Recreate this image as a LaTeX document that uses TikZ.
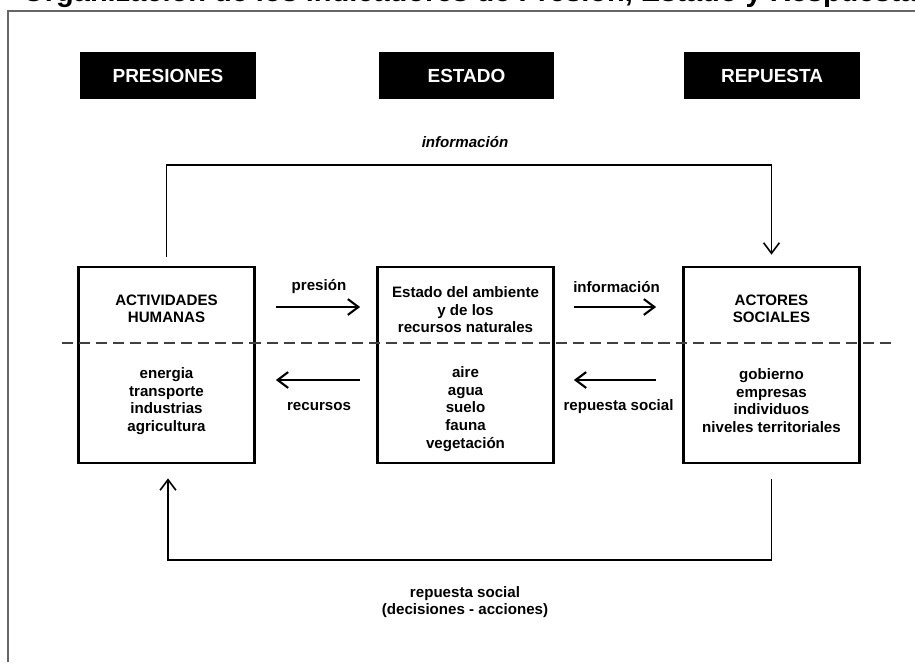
\documentclass[tikz,border=0pt]{standalone}
\usepackage{fontspec}
\setmainfont{Liberation Sans}
\usetikzlibrary{calc,arrows.meta}

\begin{document}
\begin{tikzpicture}[x=0.02cm,y=-0.02cm,
  cabecera/.style={fill=black,text=white,inner sep=0pt,minimum width=3.52cm,minimum height=0.94cm,font=\fontsize{10.8}{13}\selectfont\bfseries},
  caja/.style={draw,line width=1.6pt,minimum width=3.52cm,minimum height=3.92cm},
  texto/.style={align=center,inner sep=0pt,font=\fontsize{8.6}{10}\selectfont\bfseries},
  flecha/.style={line width=1.2pt,-{Straight Barb[length=6pt,width=9pt]}},
  lazo/.style={line width=0.9pt,-{Straight Barb[length=6pt,width=9pt]}}]

\useasboundingbox (0,0) rectangle (915,662);
\clip (0,0) rectangle (915,662);

% titulo (cortado arriba)
\node[anchor=base west,inner sep=0pt,font=\fontsize{16.5}{18}\selectfont\bfseries] (titulo) at (22,1.5) {Organización de los indicadores de Presión, Estado y Respuesta};
\draw[black!60, line width=1.4pt] (8,662) -- (8,11) -- (915,11);

% cabeceras
\node[cabecera] (hpresion) at (168,75.5) {PRESIONES};
\node[cabecera] (hestado) at (466.5,75.5) {ESTADO};
\node[cabecera] (hrespuesta) at (772,75.5) {REPUESTA};

% cajas
\node[caja] (actividades) at (166.5,365) {};
\node[caja] (estado) at (465.5,365) {};
\node[caja] (actores) at (771.5,365) {};

\node[texto] (act-t) at (166.5,309) {ACTIVIDADES\\HUMANAS};
\node[texto] (act-l) at (166.5,401) {energia\\transporte\\industrias\\agricultura};
\node[texto] (est-t) at (465.5,310) {Estado del ambiente\\y de los\\recursos naturales};
\node[texto] (est-l) at (465.5,409) {aire\\agua\\suelo\\fauna\\vegetación};
\node[texto] (soc-t) at (771.5,309) {ACTORES\\SOCIALES};
\node[texto] (soc-l) at (771.5,400.5) {gobierno\\empresas\\individuos\\niveles territoriales};

\draw[black!75, line width=1.1pt, dash pattern=on 6.3pt off 3.4pt] (62,343) -- (895,343);

% flechas entre cajas
\draw[flecha] ($(actividades.east)+(20,-58)$) -- ($(estado.west)+(-16,-58)$);
\node[texto] (presion) at ($(actividades.east)!0.5!(estado.west)+(3,-78)$) {presión};
\draw[flecha] ($(estado.west)+(-16,15)$) -- ($(actividades.east)+(20,15)$);
\node[texto] (recursos) at ($(actividades.east)!0.5!(estado.west)+(3,42)$) {recursos};

\draw[flecha] ($(estado.east)+(19,-58)$) -- ($(actores.west)+(-26,-58)$);
\node[texto] (info) at ($(estado.east)!0.5!(actores.west)+(-2,-78)$) {información};
\draw[flecha] ($(actores.west)+(-26,15)$) -- ($(estado.east)+(19,15)$);
\node[texto] (repsoc) at ($(estado.east)!0.5!(actores.west)+(0,42)$) {repuesta social};

% lazo de arriba
\coordinate (arriba) at (465,165);
\draw[lazo] ($(actividades.north)+(0,-9)$) |- (arriba) -| ($(actores.north)+(0,-11)$);
\node[texto,font=\fontsize{8.6}{10}\selectfont\bfseries\itshape] (infoarriba) at (465,142) {información};

% lazo de abajo
\coordinate (abajo) at (465,560);
\draw[lazo] ($(actores.south)+(0,15)$) |- (abajo) -| ($(actividades.south)+(1.5,14)$);
\node[texto] (decisiones) at (465,602) {repuesta social\\(decisiones - acciones)};

\end{tikzpicture}
\end{document}
